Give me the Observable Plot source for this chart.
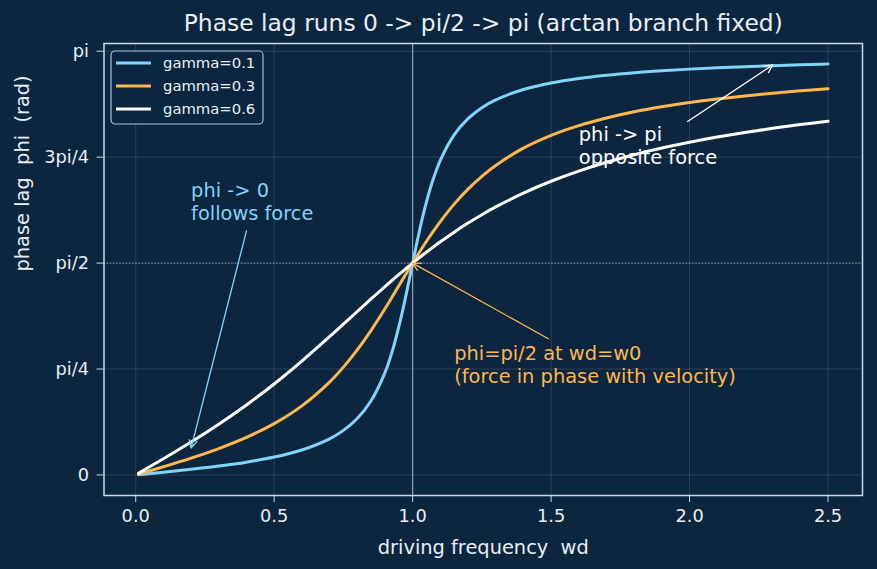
<!DOCTYPE html>
<html>
<head>
<meta charset="utf-8">
<script src="https://cdn.jsdelivr.net/npm/d3@7"></script>
<script src="https://cdn.jsdelivr.net/npm/@observablehq/plot@0.6"></script>
<style>
  html, body { margin: 0; padding: 0; background: #0c2640; }
  #chart { width: 877px; height: 569px; }
</style>
</head>
<body>
<div id="chart"></div>
<script>
// Driving frequency samples (denser around resonance at wd = 1)
const wd = [0.01, 0.1, 0.2, 0.3, 0.4, 0.5, 0.6, 0.7, 0.75, 0.8, 0.85, 0.9, 0.93, 0.96, 0.98, 1.0,
            1.02, 1.04, 1.07, 1.1, 1.15, 1.2, 1.25, 1.3, 1.4, 1.5, 1.6, 1.7, 1.8, 1.9, 2.0, 2.1,
            2.2, 2.3, 2.4, 2.5];

// Phase lag phi (rad) for each damping value
const phiGamma01 = [0.002, 0.0202, 0.0416, 0.0658, 0.0950, 0.1326, 0.1853, 0.2679, 0.3303, 0.4182,
                    0.5497, 0.7584, 0.9426, 1.1832, 1.3715, 1.5708, 1.7663, 1.9445, 2.1660, 2.3329,
                    2.5222, 2.6419, 2.7234, 2.7811, 2.8578, 2.9061, 2.9393, 2.9636, 2.9823, 2.9970,
                    3.0090, 3.0191, 3.0275, 3.0348, 3.0411, 3.0467];
const phiGamma03 = [0.006, 0.0605, 0.1244, 0.1953, 0.2783, 0.3805, 0.5125, 0.6889, 0.7995, 0.9273,
                    1.0725, 1.2324, 1.3333, 1.4355, 1.5035, 1.5708, 1.6367, 1.7009, 1.7928, 1.8789,
                    2.0080, 2.1194, 2.2143, 2.2951, 2.4228, 2.5176, 2.5899, 2.6468, 2.6926, 2.7297,
                    2.7611, 2.7877, 2.8106, 2.8303, 2.8478, 2.8633];
const phiGamma06 = [0.012, 0.1206, 0.2450, 0.3768, 0.5191, 0.6747, 0.8442, 1.0252, 1.1184, 1.2120,
                    1.3052, 1.3967, 1.4503, 1.5028, 1.5371, 1.5708, 1.6038, 1.6361, 1.6831, 1.7286,
                    1.8004, 1.8675, 1.9296, 1.9872, 2.0899, 2.1778, 2.2531, 2.3181, 2.3744, 2.4236,
                    2.4669, 2.5052, 2.5393, 2.5699, 2.5978, 2.6225];

const seriesLabels = ["gamma=0.1", "gamma=0.3", "gamma=0.6"];
const seriesColors = ["#81d4fa", "#ffb74d", "#ffffff"];
const seriesValues = [phiGamma01, phiGamma03, phiGamma06];

// Axis ticks
const xTicks = [0, 0.5, 1.0, 1.5, 2.0, 2.5];
const yTickValues = [0, Math.PI / 4, Math.PI / 2, 3 * Math.PI / 4, Math.PI];
const yTickLabels = ["0", "pi/4", "pi/2", "3pi/4", "pi"];

// Reference lines: resonance frequency and quarter-cycle lag
const resonanceWd = [1.0];
const quarterLag = [Math.PI / 2];

// Annotations: text anchor (last line baseline) and arrow tail/head in data units
const noteText = ["phi -> 0\nfollows force", "phi=pi/2 at wd=w0\n(force in phase with velocity)", "phi -> pi\nopposite force"];
const noteColors = ["#81d4fa", "#ffb74d", "#ffffff"];
const noteX = [0.2, 1.15, 1.6];
const noteY = [1.894, 0.685, 2.309];
const arrowX1 = [0.4, 1.49, 1.993];
const arrowY1 = [1.81, 1.01, 2.621];
const arrowX2 = [0.2, 1.0, 2.3];
const arrowY2 = [0.2, Math.PI / 2, 3.04];
const arrowInsetEnd = [0, 5, 4];

const BG = "#0c2640";
const INK = "#e8eef5";
const SPINE = "#c9d9ea";
const FONT = "DejaVu Sans, Verdana, sans-serif";

const curves = seriesLabels.map((label, s) =>
  wd.map((w, i) => ({wd: w, phi: seriesValues[s][i], series: label}))
);
const notes = noteText.map((text, i) => ({
  text, color: noteColors[i], x: noteX[i], y: noteY[i],
  x1: arrowX1[i], y1: arrowY1[i], x2: arrowX2[i], y2: arrowY2[i], inset: arrowInsetEnd[i]
}));

const plot = Plot.plot({
  width: 877,
  height: 569,
  marginTop: 43,
  marginBottom: 74,
  marginLeft: 103.5,
  marginRight: 15,
  style: {background: BG, color: INK, fontFamily: FONT, fontSize: "17.8px"},
  x: {domain: [-0.1145, 2.6245]},
  y: {domain: [-0.1523, 3.199]},
  marks: [
    Plot.gridX(xTicks, {stroke: "#ffffff", strokeOpacity: 0.16, strokeWidth: 0.8}),
    Plot.gridY(yTickValues, {stroke: "#ffffff", strokeOpacity: 0.16, strokeWidth: 0.8}),
    Plot.ruleX(resonanceWd, {stroke: "#b8c4d0", strokeOpacity: 0.75, strokeWidth: 1.2}),
    Plot.ruleY(quarterLag, {stroke: "#b8c8d8", strokeOpacity: 0.85, strokeWidth: 0.9, strokeDasharray: "1.2,2"}),
    ...curves.map((data, s) =>
      Plot.line(data, {x: "wd", y: "phi", stroke: seriesColors[s], strokeWidth: 3, curve: "catmull-rom"})
    ),
    Plot.arrow(notes, {
      x1: "x1", y1: "y1", x2: "x2", y2: "y2", stroke: "color", strokeWidth: 1.3,
      headLength: 10, headAngle: 55, insetEnd: "inset"
    }),
    Plot.text(notes, {
      x: "x", y: "y", text: "text", fill: "color", textAnchor: "start", lineAnchor: "bottom",
      lineHeight: 1.14, fontSize: 19.4, fontFamily: FONT
    }),
    Plot.frame({stroke: SPINE, strokeWidth: 1.5}),
    Plot.axisX({
      ticks: xTicks, tickFormat: d3.format(".1f"), tickSize: 7, tickPadding: 7,
      stroke: SPINE, fill: INK, label: null, fontSize: 17.8
    }),
    Plot.axisY({
      ticks: yTickValues, tickFormat: (d, i) => yTickLabels[i], tickSize: 7, tickPadding: 8,
      stroke: SPINE, fill: INK, label: null, fontSize: 17.8
    }),
    Plot.text(["driving frequency  wd"], {
      frameAnchor: "bottom", lineAnchor: "bottom", dy: 58, fill: INK, fontSize: 19.4, fontFamily: FONT
    }),
    Plot.text(["phase lag  phi  (rad)"], {
      frameAnchor: "left", lineAnchor: "bottom", rotate: -90, dx: -75, dy: 2,
      fill: INK, fontSize: 19.4, fontFamily: FONT
    }),
    Plot.text(["Phase lag runs 0 -> pi/2 -> pi (arctan branch fixed)"], {
      frameAnchor: "top", lineAnchor: "bottom", dy: -13, fill: INK, fontSize: 23.4, fontFamily: FONT
    })
  ]
});

// Legend box in the upper-left corner of the frame
const svg = d3.select(plot);
const legend = svg.append("g").attr("transform", "translate(111,51)");
legend.append("rect")
  .attr("width", 152).attr("height", 73).attr("rx", 4)
  .attr("fill", BG).attr("fill-opacity", 0.92)
  .attr("stroke", SPINE).attr("stroke-opacity", 0.9).attr("stroke-width", 1.1);
seriesLabels.forEach((label, i) => {
  const cy = 12 + i * 23;
  legend.append("line")
    .attr("x1", 5).attr("x2", 40).attr("y1", cy).attr("y2", cy)
    .attr("stroke", seriesColors[i]).attr("stroke-width", 3);
  legend.append("text")
    .attr("x", 52).attr("y", cy).attr("dy", "0.35em")
    .attr("text-anchor", "start")
    .attr("fill", INK).attr("font-size", 14.8).attr("font-family", FONT)
    .text(label);
});

document.getElementById("chart").append(plot);
</script>
</body>
</html>
